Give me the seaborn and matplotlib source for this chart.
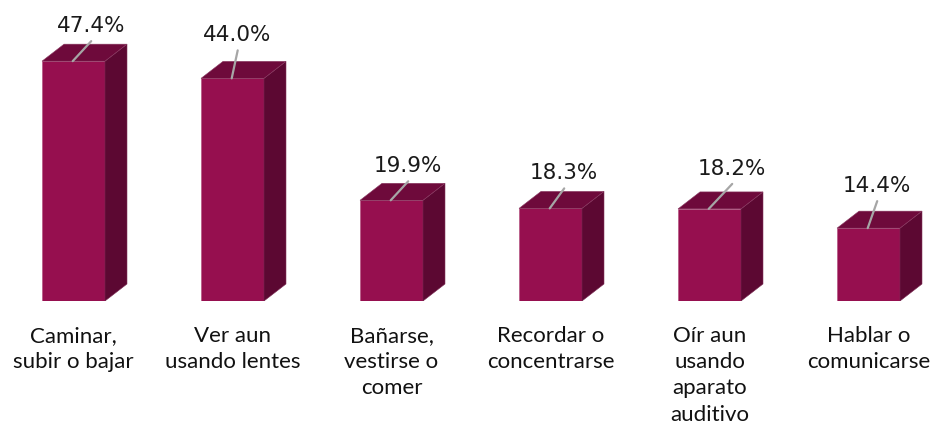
import matplotlib
matplotlib.use("Agg")
import matplotlib.pyplot as plt
from matplotlib.patches import Polygon
import seaborn as sns

# data
categories = [
    "Caminar,\nsubir o bajar",
    "Ver aun\nusando lentes",
    "Bañarse,\nvestirse o\ncomer",
    "Recordar o\nconcentrarse",
    "Oír aun\nusando\naparato\nauditivo",
    "Hablar o\ncomunicarse",
]
values = [47.4, 44.0, 19.9, 18.3, 18.2, 14.4]
value_labels = ["47.4%", "44.0%", "19.9%", "18.3%", "18.2%", "14.4%"]

# label placement (pixels): text centre x offset, baseline height above bar top
label_dx = [17.5, 5, 16.5, 13.5, 22.5, 8.5]
label_dy = [30, 38, 29, 30, 35, 37]

# colours
front = "#960F4F"
top = "#6E0A3B"
side = "#5C0832"
leader = "#A6A6A6"

sns.set_theme(style="white")

fig = plt.figure(figsize=(9.31, 4.31), dpi=100)
ax = fig.add_axes([0, (431 - 302) / 431, 1, 302 / 431])

bar_w = 0.396
sns.barplot(x=list(range(len(values))), y=values, color=front, width=bar_w,
            saturation=1, ax=ax, edgecolor="#B04A7A", linewidth=0.4)

# fake 3d: top and side faces
depth_x = 22 / 159
depth_y = 17 / 5.06
for i, v in enumerate(values):
    xl, xr = i - bar_w / 2, i + bar_w / 2
    ax.add_patch(Polygon([(xr, 0), (xr + depth_x, depth_y), (xr + depth_x, v + depth_y), (xr, v)],
                         closed=True, facecolor=side, edgecolor="#7A2A52", linewidth=0.4))
    ax.add_patch(Polygon([(xl, v), (xl + depth_x, v + depth_y), (xr + depth_x, v + depth_y), (xr, v)],
                         closed=True, facecolor=top, edgecolor="#8A3A62", linewidth=0.4))

# value labels with leader lines
for i, (v, lab) in enumerate(zip(values, value_labels)):
    ax.annotate("", xy=(i - 0.005, v), xytext=(label_dx[i] + 1, label_dy[i] - 10),
                textcoords="offset pixels",
                arrowprops=dict(arrowstyle="-", color=leader, lw=1.6, shrinkA=0, shrinkB=0))
    ax.annotate(lab, xy=(i, v), xytext=(label_dx[i], label_dy[i]), textcoords="offset pixels",
                ha="center", va="baseline", fontsize=15.5, color="#1A1A1A",
                family="DejaVu Sans")

ax.set_xlim(-73.5 / 159, (931 - 73.5) / 159)
ax.set_ylim(0, 302 / 5.06)
ax.set_xticks(range(len(categories)))
ax.set_xticklabels(categories, family="Lato", fontsize=16, color="#111111",
                   linespacing=1.4, va="top")
ax.tick_params(axis="x", length=0, pad=17)
ax.set_yticks([])
ax.set_ylabel("")
for s in ax.spines.values():
    s.set_visible(False)

fig.savefig("out.png", dpi=100)
